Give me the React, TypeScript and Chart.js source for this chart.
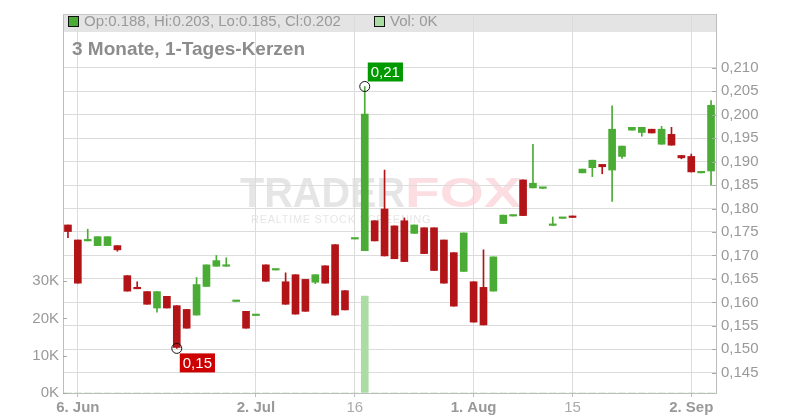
import React, { useEffect, useRef } from 'react';
import { Chart, registerables } from 'chart.js';

Chart.register(...registerables);

const FAMILY = '"Liberation Sans", Arial, Helvetica, sans-serif';

const dates = [
  '2024-06-05', '2024-06-06', '2024-06-07', '2024-06-10', '2024-06-11', '2024-06-12', '2024-06-13', '2024-06-14',
  '2024-06-17', '2024-06-18', '2024-06-19', '2024-06-20', '2024-06-21', '2024-06-24', '2024-06-25', '2024-06-26',
  '2024-06-27', '2024-06-28', '2024-07-01', '2024-07-02', '2024-07-03', '2024-07-04', '2024-07-05', '2024-07-08',
  '2024-07-09', '2024-07-10', '2024-07-11', '2024-07-12', '2024-07-15', '2024-07-16', '2024-07-17', '2024-07-18',
  '2024-07-19', '2024-07-22', '2024-07-23', '2024-07-24', '2024-07-25', '2024-07-26', '2024-07-29', '2024-07-30',
  '2024-07-31', '2024-08-01', '2024-08-02', '2024-08-05', '2024-08-06', '2024-08-07', '2024-08-08', '2024-08-09',
  '2024-08-12', '2024-08-13', '2024-08-14', '2024-08-15', '2024-08-16', '2024-08-19', '2024-08-20', '2024-08-21',
  '2024-08-22', '2024-08-23', '2024-08-26', '2024-08-27', '2024-08-28', '2024-08-29', '2024-08-30', '2024-09-02',
  '2024-09-03', '2024-09-04',
];

const open = [
  0.1765, 0.1733, 0.1731, 0.1721, 0.1721, 0.1721, 0.1657, 0.1632, 0.1623, 0.1588,
  0.1613, 0.1593, 0.1585, 0.1573, 0.1634, 0.1677, 0.1677, 0.1602, 0.1581, 0.1572,
  0.1680, 0.1669, 0.1644, 0.1659, 0.1649, 0.1643, 0.1678, 0.1723, 0.1625, 0.1735,
  0.1710, 0.1774, 0.1799, 0.1763, 0.1774, 0.1747, 0.1759, 0.1759, 0.1733, 0.1706,
  0.1666, 0.1644, 0.1632, 0.1624, 0.1768, 0.1784, 0.1861, 0.1844, 0.1843, 0.1764,
  0.1779, 0.1784, 0.1876, 0.1887, 0.1894, 0.1882, 0.1911, 0.1967, 0.1962, 0.1969,
  0.1937, 0.1958, 0.1913, 0.1911, 0.1876, 0.1880,
];
const high = [
  0.1765, 0.1733, 0.1756, 0.1740, 0.1740, 0.1721, 0.1657, 0.1644, 0.1623, 0.1623,
  0.1613, 0.1593, 0.1585, 0.1653, 0.1680, 0.1700, 0.1695, 0.1602, 0.1581, 0.1572,
  0.1680, 0.1669, 0.1663, 0.1659, 0.1649, 0.1659, 0.1678, 0.1723, 0.1625, 0.1735,
  0.2060, 0.1774, 0.1882, 0.1763, 0.1780, 0.1765, 0.1759, 0.1759, 0.1733, 0.1706,
  0.1748, 0.1644, 0.1712, 0.1697, 0.1786, 0.1784, 0.1861, 0.1937, 0.1843, 0.1782,
  0.1779, 0.1784, 0.1884, 0.1903, 0.1894, 0.2019, 0.1933, 0.1973, 0.1973, 0.1969,
  0.1975, 0.1973, 0.1913, 0.1916, 0.1876, 0.2030,
];
const low = [
  0.1738, 0.1641, 0.1731, 0.1721, 0.1721, 0.1709, 0.1624, 0.1629, 0.1596, 0.1579,
  0.1588, 0.1502, 0.1545, 0.1573, 0.1634, 0.1677, 0.1677, 0.1602, 0.1545, 0.1572,
  0.1645, 0.1669, 0.1596, 0.1575, 0.1581, 0.1640, 0.1641, 0.1573, 0.1584, 0.1735,
  0.1710, 0.1731, 0.1699, 0.1693, 0.1687, 0.1747, 0.1704, 0.1668, 0.1641, 0.1592,
  0.1666, 0.1558, 0.1552, 0.1624, 0.1768, 0.1784, 0.1785, 0.1844, 0.1843, 0.1764,
  0.1779, 0.1781, 0.1876, 0.1868, 0.1874, 0.1815, 0.1907, 0.1967, 0.1954, 0.1961,
  0.1937, 0.1935, 0.1906, 0.1878, 0.1876, 0.1850,
];
const close = [
  0.1751, 0.1641, 0.1731, 0.1740, 0.1740, 0.1712, 0.1624, 0.1629, 0.1596, 0.1623,
  0.1588, 0.1504, 0.1545, 0.1638, 0.1680, 0.1689, 0.1678, 0.1602, 0.1545, 0.1572,
  0.1645, 0.1669, 0.1596, 0.1575, 0.1581, 0.1659, 0.1641, 0.1573, 0.1584, 0.1735,
  0.2001, 0.1731, 0.1699, 0.1693, 0.1687, 0.1765, 0.1704, 0.1668, 0.1641, 0.1592,
  0.1748, 0.1558, 0.1552, 0.1697, 0.1786, 0.1784, 0.1785, 0.1854, 0.1843, 0.1764,
  0.1779, 0.1781, 0.1884, 0.1903, 0.1889, 0.1969, 0.1933, 0.1973, 0.1973, 0.1961,
  0.1969, 0.1935, 0.1908, 0.1878, 0.1876, 0.2020,
];
const volume = [
  0, 0, 0, 0, 0, 0, 0, 0, 0, 0,
  0, 0, 0, 0, 0, 0, 0, 0, 0, 0,
  0, 0, 0, 0, 0, 0, 0, 0, 0, 0,
  26000, 0, 0, 0, 0, 0, 0, 0, 0, 0,
  0, 0, 0, 0, 0, 0, 0, 0, 0, 0,
  0, 0, 0, 0, 0, 0, 0, 0, 0, 0,
  0, 0, 0, 0, 0, 0,
];

const priceTicks = [0.145, 0.15, 0.155, 0.16, 0.165, 0.17, 0.175, 0.18, 0.185, 0.19, 0.195, 0.2, 0.205, 0.21];
const volumeTicks = [0, 10000, 20000, 30000];
const xTickDates = ['2024-06-06', '2024-07-02', '2024-07-16', '2024-08-01', '2024-08-15', '2024-09-02'];
const xTickLabels = ['6. Jun', '2. Jul', '16', '1. Aug', '15', '2. Sep'];
const xTickBold = [true, true, false, true, false, true];

const titleText = '3 Monate, 1-Tages-Kerzen';

const PRICE_MIN = 0.140697;
const PRICE_MAX = 0.221446;
const VOL_MAX = 101600;

const GREEN = 'rgb(74,172,52)';
const RED = 'rgb(178,20,23)';
const VOLC = 'rgb(170,220,163)';
const GRID = '#dcdcdc';
const AXIS = '#bdbdbd';
const TXT = '#999999';

const fmtComma = (v: number, d: number) => v.toFixed(d).replace('.', ',');

const tickIndex = (i: number) => xTickDates.indexOf(dates[i]);

const decor = {
  id: 'decor',
  beforeDraw(chart: any) {
    const { ctx, chartArea: a } = chart;
    ctx.save();
    ctx.fillStyle = '#e4e4e4';
    ctx.fillRect(a.left, a.top, a.right - a.left, 18);
    // watermark
    ctx.textBaseline = 'alphabetic';
    ctx.font = `bold 42px ${FAMILY}`;
    ctx.fillStyle = 'rgba(0,0,0,0.1)';
    ctx.fillText('TRADER', 240, 207, 165);
    ctx.save();
    ctx.translate(405, 207);
    ctx.scale(1.35, 1);
    ctx.fillStyle = 'rgba(240,70,95,0.18)';
    ctx.fillText('FOX', 0, 0);
    ctx.restore();
    ctx.font = `11px ${FAMILY}`;
    (ctx as any).letterSpacing = '0.7px';
    ctx.fillStyle = 'rgba(0,0,0,0.11)';
    ctx.fillText('REALTIME STOCK SCREENING', 251, 223);
    ctx.restore();
  },
  afterDatasetsDraw(chart: any) {
    const { ctx } = chart;
    const xs = chart.scales.x;
    const ys = chart.scales.y;
    let iMax = 0;
    let iMin = 0;
    high.forEach((h, i) => { if (h > high[iMax]) iMax = i; });
    low.forEach((l, i) => { if (l < low[iMin]) iMin = i; });
    ctx.save();
    ctx.font = `15px ${FAMILY}`;
    ctx.textBaseline = 'middle';
    ctx.textAlign = 'left';
    const mark = (i: number, v: number, up: boolean, bg: string) => {
      const px = xs.getPixelForValue(i);
      const py = ys.getPixelForValue(v);
      ctx.beginPath();
      ctx.arc(px, py, 5, 0, Math.PI * 2);
      ctx.strokeStyle = '#111';
      ctx.lineWidth = 1;
      ctx.stroke();
      const t = fmtComma(v, 2);
      const w = ctx.measureText(t).width + 6;
      const h = 19;
      const bx = px + 3;
      const by = up ? py - 5 - h : py + 5;
      ctx.fillStyle = bg;
      ctx.fillRect(bx, by, w, h);
      ctx.fillStyle = '#fff';
      ctx.fillText(t, bx + 3, by + h / 2 + 0.5);
    };
    mark(iMax, high[iMax], true, '#009a00');
    mark(iMin, low[iMin], false, '#cc0000');
    ctx.restore();
  },
  afterDraw(chart: any) {
    const { ctx, chartArea: a } = chart;
    const ys = chart.scales.y;
    const yv = chart.scales.yv;
    ctx.save();
    // top frame line
    ctx.strokeStyle = '#c8c8c8';
    ctx.lineWidth = 1;
    ctx.beginPath();
    ctx.moveTo(a.left, Math.round(a.top) + 0.5);
    ctx.lineTo(a.right, Math.round(a.top) + 0.5);
    ctx.stroke();
    // inner tick marks
    ctx.strokeStyle = '#a8a8a8';
    priceTicks.forEach((v) => {
      const py = Math.round(ys.getPixelForValue(v)) + 0.5;
      ctx.beginPath();
      ctx.moveTo(a.right - 4, py);
      ctx.lineTo(a.right, py);
      ctx.stroke();
    });
    volumeTicks.forEach((v) => {
      const py = Math.round(yv.getPixelForValue(v)) + 0.5;
      ctx.beginPath();
      ctx.moveTo(a.left, py);
      ctx.lineTo(a.left + 4, py);
      ctx.stroke();
    });
    // legend row
    const last = open.length - 1;
    ctx.fillStyle = GREEN;
    ctx.fillRect(68.5, 16.5, 10, 10);
    ctx.strokeStyle = '#111';
    ctx.strokeRect(68.5, 16.5, 10, 10);
    ctx.fillStyle = VOLC;
    ctx.fillRect(374.5, 16.5, 10, 10);
    ctx.strokeRect(374.5, 16.5, 10, 10);
    ctx.font = `15px ${FAMILY}`;
    ctx.textBaseline = 'middle';
    ctx.fillStyle = TXT;
    ctx.fillText(
      `Op:${open[last].toFixed(3)}, Hi:${high[last].toFixed(3)}, Lo:${low[last].toFixed(3)}, Cl:${close[last].toFixed(3)}`,
      84, 22,
    );
    ctx.fillText(`Vol: ${Math.round(volume[last] / 1000)}K`, 390, 22);
    // title
    ctx.font = `bold 19px ${FAMILY}`;
    ctx.textBaseline = 'alphabetic';
    ctx.fillStyle = '#8c8c8c';
    ctx.fillText(titleText, 72, 55);
    ctx.restore();
  },
};

export default function App() {
  const ref = useRef<HTMLCanvasElement | null>(null);
  useEffect(() => {
    if (!ref.current) return;
    Chart.defaults.font.family = FAMILY;
    const colors = open.map((o, i) => (close[i] >= o ? GREEN : RED));
    const chart = new Chart(ref.current, {
      type: 'bar',
      data: {
        labels: dates,
        datasets: [
          {
            label: 'Volumen',
            data: volume,
            yAxisID: 'yv',
            backgroundColor: VOLC,
            barThickness: 7,
            grouped: false,
            order: 3,
          } as any,
          {
            label: 'Docht',
            data: low.map((l, i) => [l, high[i]]),
            yAxisID: 'y',
            backgroundColor: colors,
            barThickness: 1,
            grouped: false,
            order: 2,
          } as any,
          {
            label: 'Kerze',
            data: open.map((o, i) => [o, close[i]]),
            yAxisID: 'y',
            backgroundColor: colors,
            barThickness: 7,
            minBarLength: 1.5,
            grouped: false,
            order: 1,
          } as any,
        ],
      },
      options: {
        animation: false,
        responsive: false,
        events: [],
        layout: { padding: { top: 12, left: 0, right: 0, bottom: 0 } },
        plugins: { legend: { display: false }, tooltip: { enabled: false }, title: { display: false } },
        scales: {
          x: {
            type: 'category',
            offset: true,
            grid: {
              offset: false,
              color: (c: any) => (tickIndex(c.index) >= 0 ? GRID : 'rgba(0,0,0,0)'),
              tickColor: (c: any) => (tickIndex(c.index) >= 0 ? AXIS : 'rgba(0,0,0,0)'),
              tickLength: 4,
            },
            border: { color: AXIS },
            ticks: {
              autoSkip: false,
              maxRotation: 0,
              minRotation: 0,
              padding: 2,
              callback: (_v: any, i: number) => {
                const k = tickIndex(i);
                return k >= 0 ? xTickLabels[k] : '';
              },
              font: (c: any) => {
                const k = tickIndex(c.index);
                return { size: 15, weight: k >= 0 && xTickBold[k] ? 'bold' : 'normal', family: FAMILY };
              },
              color: (c: any) => {
                const k = tickIndex(c.index);
                return k >= 0 && !xTickBold[k] ? '#aaaaaa' : TXT;
              },
            },
            afterFit: (s: any) => { s.height = 27; },
          },
          y: {
            type: 'linear',
            position: 'right',
            min: PRICE_MIN,
            max: PRICE_MAX,
            afterBuildTicks: (s: any) => { s.ticks = priceTicks.map((v) => ({ value: v })); },
            grid: {
              color: (c: any) => (c.tick && c.tick.value <= 0.2101 ? GRID : 'rgba(0,0,0,0)'),
              drawTicks: false,
            },
            border: { color: AXIS },
            ticks: {
              padding: 5,
              callback: (v: any) => fmtComma(Number(v), 3),
              font: { size: 15, family: FAMILY },
              color: TXT,
            },
            afterFit: (s: any) => { s.width = 84; },
          },
          yv: {
            type: 'linear',
            position: 'left',
            min: 0,
            max: VOL_MAX,
            afterBuildTicks: (s: any) => { s.ticks = volumeTicks.map((v) => ({ value: v })); },
            grid: { drawOnChartArea: false, drawTicks: false },
            border: { display: true, color: AXIS },
            ticks: {
              padding: 4,
              callback: (v: any) => `${Math.round(Number(v) / 1000)}K`,
              font: { size: 15, family: FAMILY },
              color: TXT,
            },
            afterFit: (s: any) => { s.width = 63; },
          },
        },
      } as any,
      plugins: [decor],
    });
    return () => chart.destroy();
  }, []);
  return (
    <div style={{ position: 'fixed', left: 0, top: 0, width: 800, height: 420, background: '#fff' }}>
      <canvas ref={ref} width={800} height={420} style={{ display: 'block', width: 800, height: 420 }} />
    </div>
  );
}
